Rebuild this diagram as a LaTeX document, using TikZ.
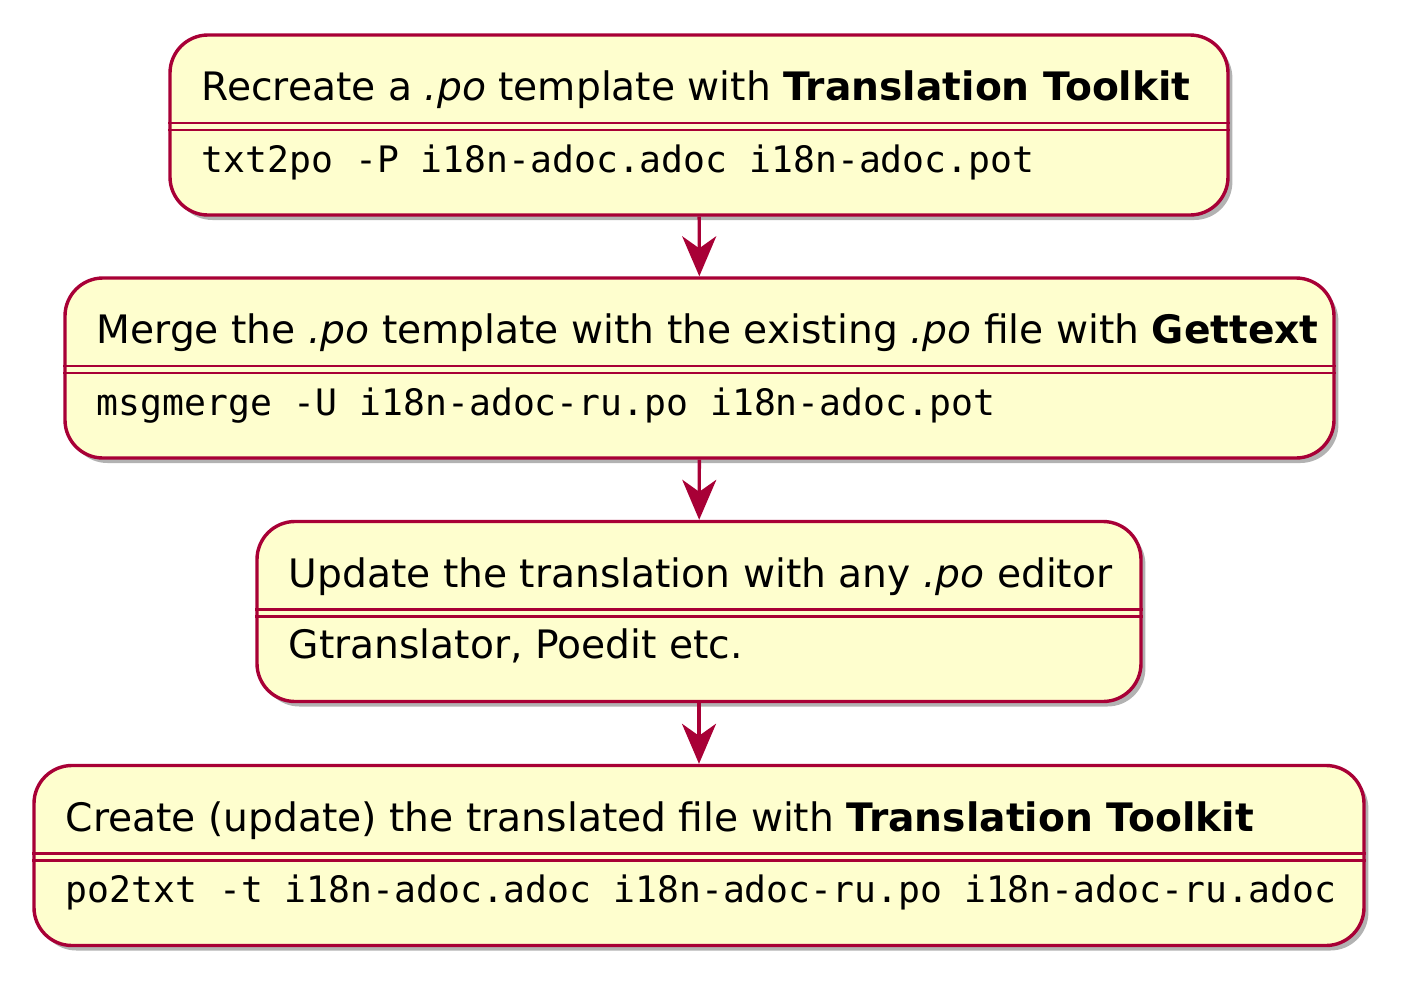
\documentclass[tikz,border=0pt]{standalone}
\usepackage{fontspec}
\setmainfont{DejaVu Sans}
\setmonofont{DejaVu Sans Mono}
\usetikzlibrary{arrows.meta,shadows}
\definecolor{umlred}{HTML}{A80036}
\definecolor{umlfill}{HTML}{FEFECE}
\def\po{\textit{.po}}
\def\dsep#1{\draw[umlred,line width=1.4pt]
  ([yshift=-44.8pt]#1.north west) -- ([yshift=-44.8pt]#1.north east)
  ([yshift=-48.3pt]#1.north west) -- ([yshift=-48.3pt]#1.north east);}
\def\head#1{([xshift=16.5pt,yshift=-33.7pt]#1.north west)}
\def\body#1{([xshift=16.5pt,yshift=-69.4pt]#1.north west)}

\begin{document}
\begin{tikzpicture}[x=0.5pt,y=-0.5pt,
    state/.style={draw=umlred,fill=umlfill,line width=1.7pt,rounded corners=19pt,
      minimum height=90pt,inner sep=0pt,
      drop shadow={shadow xshift=2.2pt,shadow yshift=-2.5pt,fill=black,opacity=0.3}},
    txt/.style={anchor=base west,inner sep=0pt,font=\fontsize{19.6}{24}\selectfont},
    code/.style={txt,font=\ttfamily\fontsize{18.2}{22}\selectfont},
    flow/.style={-{Stealth[length=20pt,width=17pt,inset=6pt]},umlred,line width=1.7pt}]
  \useasboundingbox (0,0) rectangle (1415,996);
  % states
  \node[state,minimum width=529pt] (recreate) at (699,125) {};
  \node[state,minimum width=634.5pt] (merge) at (699.5,368) {};
  \node[state,minimum width=442pt] (update) at (699,611.5) {};
  \node[state,minimum width=665pt] (create) at (699,855.5) {};
  \dsep{recreate}
  \dsep{merge}
  \dsep{update}
  \dsep{create}
  % texts
  \node[txt] (recreate-t) at \head{recreate} {Recreate a \po{} template with \textbf{Translation Toolkit}};
  \node[code] (recreate-c) at \body{recreate} {txt2po -P i18n-adoc.adoc i18n-adoc.pot};
  \node[txt] (merge-t) at \head{merge} {Merge the \po{} template with the existing \po{} file with \textbf{Gettext}};
  \node[code] (merge-c) at \body{merge} {msgmerge -U i18n-adoc-ru.po i18n-adoc.pot};
  \node[txt] (update-t) at \head{update} {Update the translation with any \po{} editor};
  \node[txt] (update-c) at \body{update} {Gtranslator, Poedit etc.};
  \node[txt] (create-t) at \head{create} {Create (update) the translated file with \textbf{Translation Toolkit}};
  \node[code] (create-c) at \body{create} {po2txt -t i18n-adoc.adoc i18n-adoc-ru.po i18n-adoc-ru.adoc};
  % arrows
  \draw[flow] (recreate) -- (merge);
  \draw[flow] (merge) -- (update);
  \draw[flow] (update) -- (create);
\end{tikzpicture}
\end{document}
